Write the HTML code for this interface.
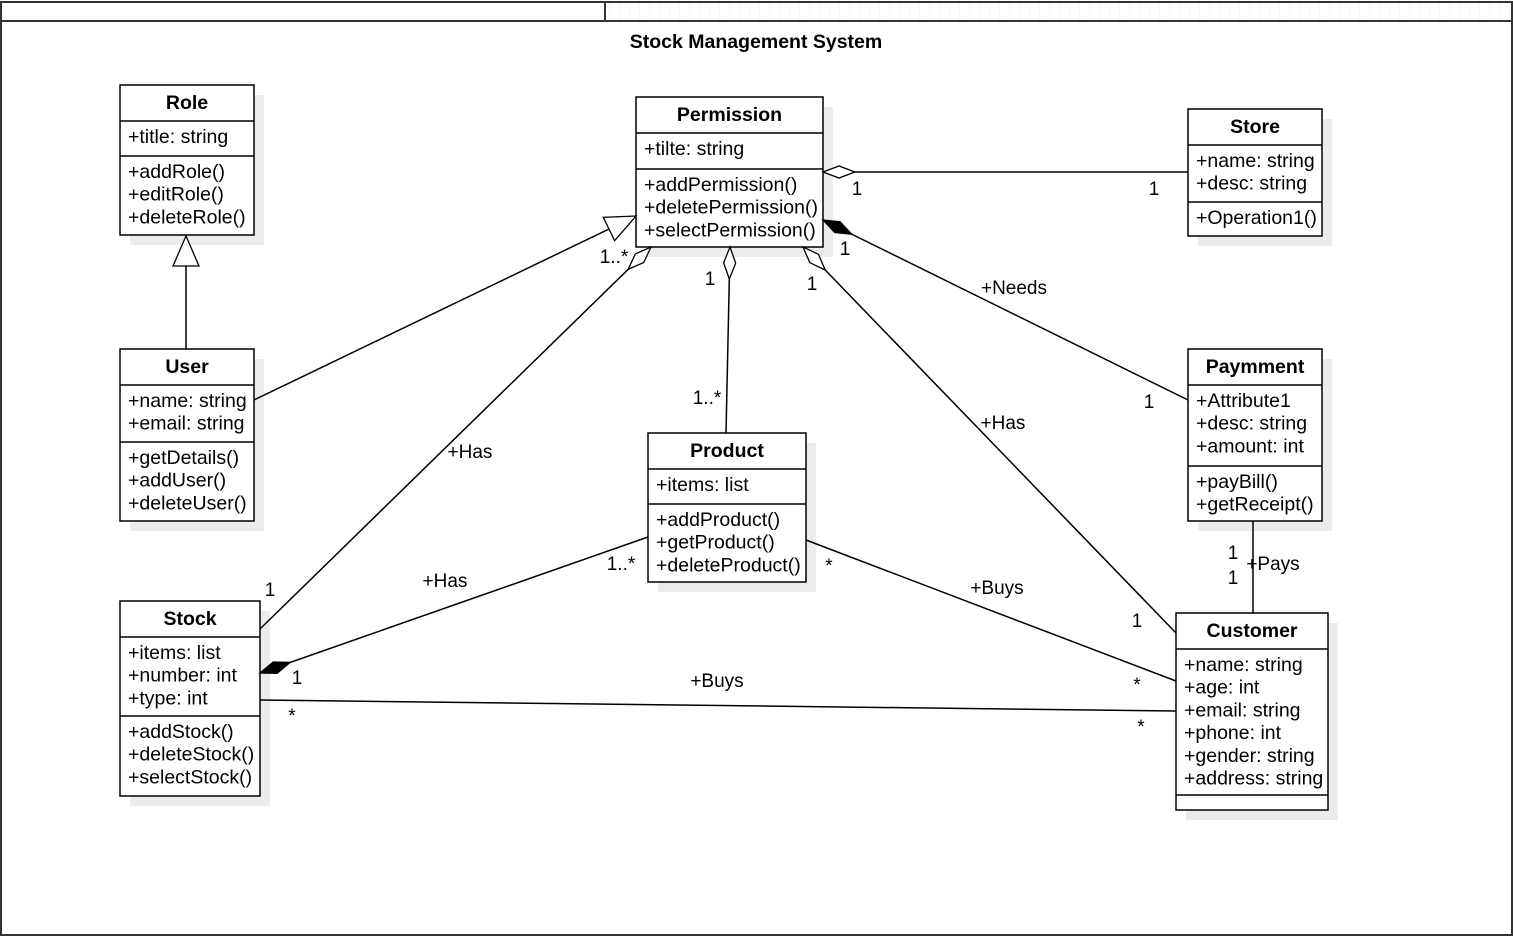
<!DOCTYPE html>
<html><head><meta charset="utf-8"><style>
html,body{margin:0;padding:0;background:#fff}
svg{display:block;font-family:"Liberation Sans",Arial,sans-serif}
</style></head><body>
<svg id="s" width="1513" height="937" xmlns="http://www.w3.org/2000/svg">
<defs>
<pattern id="grid" width="10" height="10" patternUnits="userSpaceOnUse"><path d="M10 0V10" stroke="#eeeeee" stroke-width="1"/></pattern>
<marker id="dh" markerUnits="userSpaceOnUse" markerWidth="40" markerHeight="20" refX="0" refY="10" orient="auto" viewBox="0 0 40 20" overflow="visible"><path d="M0 10 L16 4 L32 10 L16 16 Z" fill="#fff" stroke="#000" stroke-width="1.3"/></marker>
<marker id="df" markerUnits="userSpaceOnUse" markerWidth="40" markerHeight="20" refX="0" refY="10" orient="auto" viewBox="0 0 40 20" overflow="visible"><path d="M0 10 L16 4 L32 10 L16 16 Z" fill="#000" stroke="#000" stroke-width="1.3"/></marker>
<marker id="tri" markerUnits="userSpaceOnUse" markerWidth="40" markerHeight="40" refX="30" refY="20" orient="auto" viewBox="0 0 40 40" overflow="visible"><path d="M30 20 L0 7 L0 33 Z" fill="#fff" stroke="#000" stroke-width="1.3"/></marker>
</defs>
<rect x="606" y="2" width="906" height="19" fill="url(#grid)"/>
<rect x="1" y="2" width="1511" height="933" fill="none" stroke="#333" stroke-width="2"/>
<line x1="1" y1="21" x2="1512" y2="21" stroke="#333" stroke-width="2"/>
<line x1="605" y1="2" x2="605" y2="21" stroke="#333" stroke-width="2"/>
<text x="756" y="48" text-anchor="middle" font-size="19.5" font-weight="bold">Stock Management System</text>
<g id="boxes"></g>
<g stroke="#000" stroke-width="1.5" fill="none">
<line x1="186" y1="349" x2="186" y2="236" marker-end="url(#tri)"/>
<line x1="254" y1="400" x2="636" y2="216" marker-end="url(#tri)"/>
<line x1="651" y1="247" x2="260" y2="629" marker-start="url(#dh)"/>
<line x1="730" y1="247" x2="726" y2="433" marker-start="url(#dh)"/>
<line x1="803" y1="247" x2="1176" y2="633" marker-start="url(#dh)"/>
<line x1="823" y1="172" x2="1188" y2="172" marker-start="url(#dh)"/>
<line x1="823" y1="220" x2="1188" y2="400" marker-start="url(#df)"/>
<line x1="260" y1="673" x2="648" y2="537" marker-start="url(#df)"/>
<line x1="806" y1="540" x2="1176" y2="681"/>
<line x1="260" y1="700" x2="1176" y2="711"/>
<line x1="1253" y1="521" x2="1253" y2="613"/>
</g>
<g font-size="19" text-anchor="middle">
<text x="614" y="263">1..*</text><text x="270" y="596">1</text><text x="470" y="458">+Has</text>
<text x="710" y="285">1</text><text x="707" y="404">1..*</text>
<text x="812" y="290">1</text><text x="1137" y="627">1</text><text x="1003" y="429">+Has</text>
<text x="857" y="195">1</text><text x="1154" y="195">1</text>
<text x="845" y="255">1</text><text x="1149" y="408">1</text><text x="1014" y="294">+Needs</text>
<text x="621" y="570">1..*</text><text x="297" y="684">1</text><text x="445" y="587">+Has</text>
<text x="829" y="572">*</text><text x="1137" y="691">*</text><text x="997" y="594">+Buys</text>
<text x="292" y="722">*</text><text x="1141" y="733">*</text><text x="717" y="687">+Buys</text>
<text x="1233" y="559">1</text><text x="1233" y="584">1</text><text x="1273" y="570">+Pays</text>
</g>
</svg>
<script>
var boxes=[
["Role",120,254,[85,121,156,235],["+title: string"],["+addRole()","+editRole()","+deleteRole()"]],
["Permission",636,823,[97,133,169,247],["+tilte: string"],["+addPermission()","+deletePermission()","+selectPermission()"]],
["Store",1188,1322,[109,145,202,236],["+name: string","+desc: string"],["+Operation1()"]],
["User",120,254,[349,385,442,521],["+name: string","+email: string"],["+getDetails()","+addUser()","+deleteUser()"]],
["Product",648,806,[433,469,504,582],["+items: list"],["+addProduct()","+getProduct()","+deleteProduct()"]],
["Paymment",1188,1322,[349,385,466,521],["+Attribute1","+desc: string","+amount: int"],["+payBill()","+getReceipt()"]],
["Stock",120,260,[601,637,716,796],["+items: list","+number: int","+type: int"],["+addStock()","+deleteStock()","+selectStock()"]],
["Customer",1176,1328,[613,649,795,810],["+name: string","+age: int","+email: string","+phone: int","+gender: string","+address: string"],[]]
];
var h='';
boxes.forEach(function(b){
var x1=b[1],x2=b[2],y=b[3],w=x2-x1;
h+='<rect x="'+(x1+10)+'" y="'+(y[0]+10)+'" width="'+w+'" height="'+(y[3]-y[0])+'" fill="#ececec"/>';
h+='<rect x="'+x1+'" y="'+y[0]+'" width="'+w+'" height="'+(y[3]-y[0])+'" fill="#fff" stroke="#000" stroke-width="1.5"/>';
h+='<line x1="'+x1+'" y1="'+y[1]+'" x2="'+x2+'" y2="'+y[1]+'" stroke="#000" stroke-width="1.5"/>';
h+='<line x1="'+x1+'" y1="'+y[2]+'" x2="'+x2+'" y2="'+y[2]+'" stroke="#000" stroke-width="1.5"/>';
h+='<text x="'+(x1+w/2)+'" y="'+(y[0]+24)+'" text-anchor="middle" font-size="19.5" font-weight="bold">'+b[0]+'</text>';
b[4].forEach(function(t,i){h+='<text x="'+(x1+8)+'" y="'+(y[1]+22+i*22.7)+'" font-size="19.5">'+t+'</text>';});
b[5].forEach(function(t,i){h+='<text x="'+(x1+8)+'" y="'+(y[2]+22+i*22.7)+'" font-size="19.5">'+t+'</text>';});
});
document.getElementById('boxes').innerHTML=h;
</script>
</body></html>
